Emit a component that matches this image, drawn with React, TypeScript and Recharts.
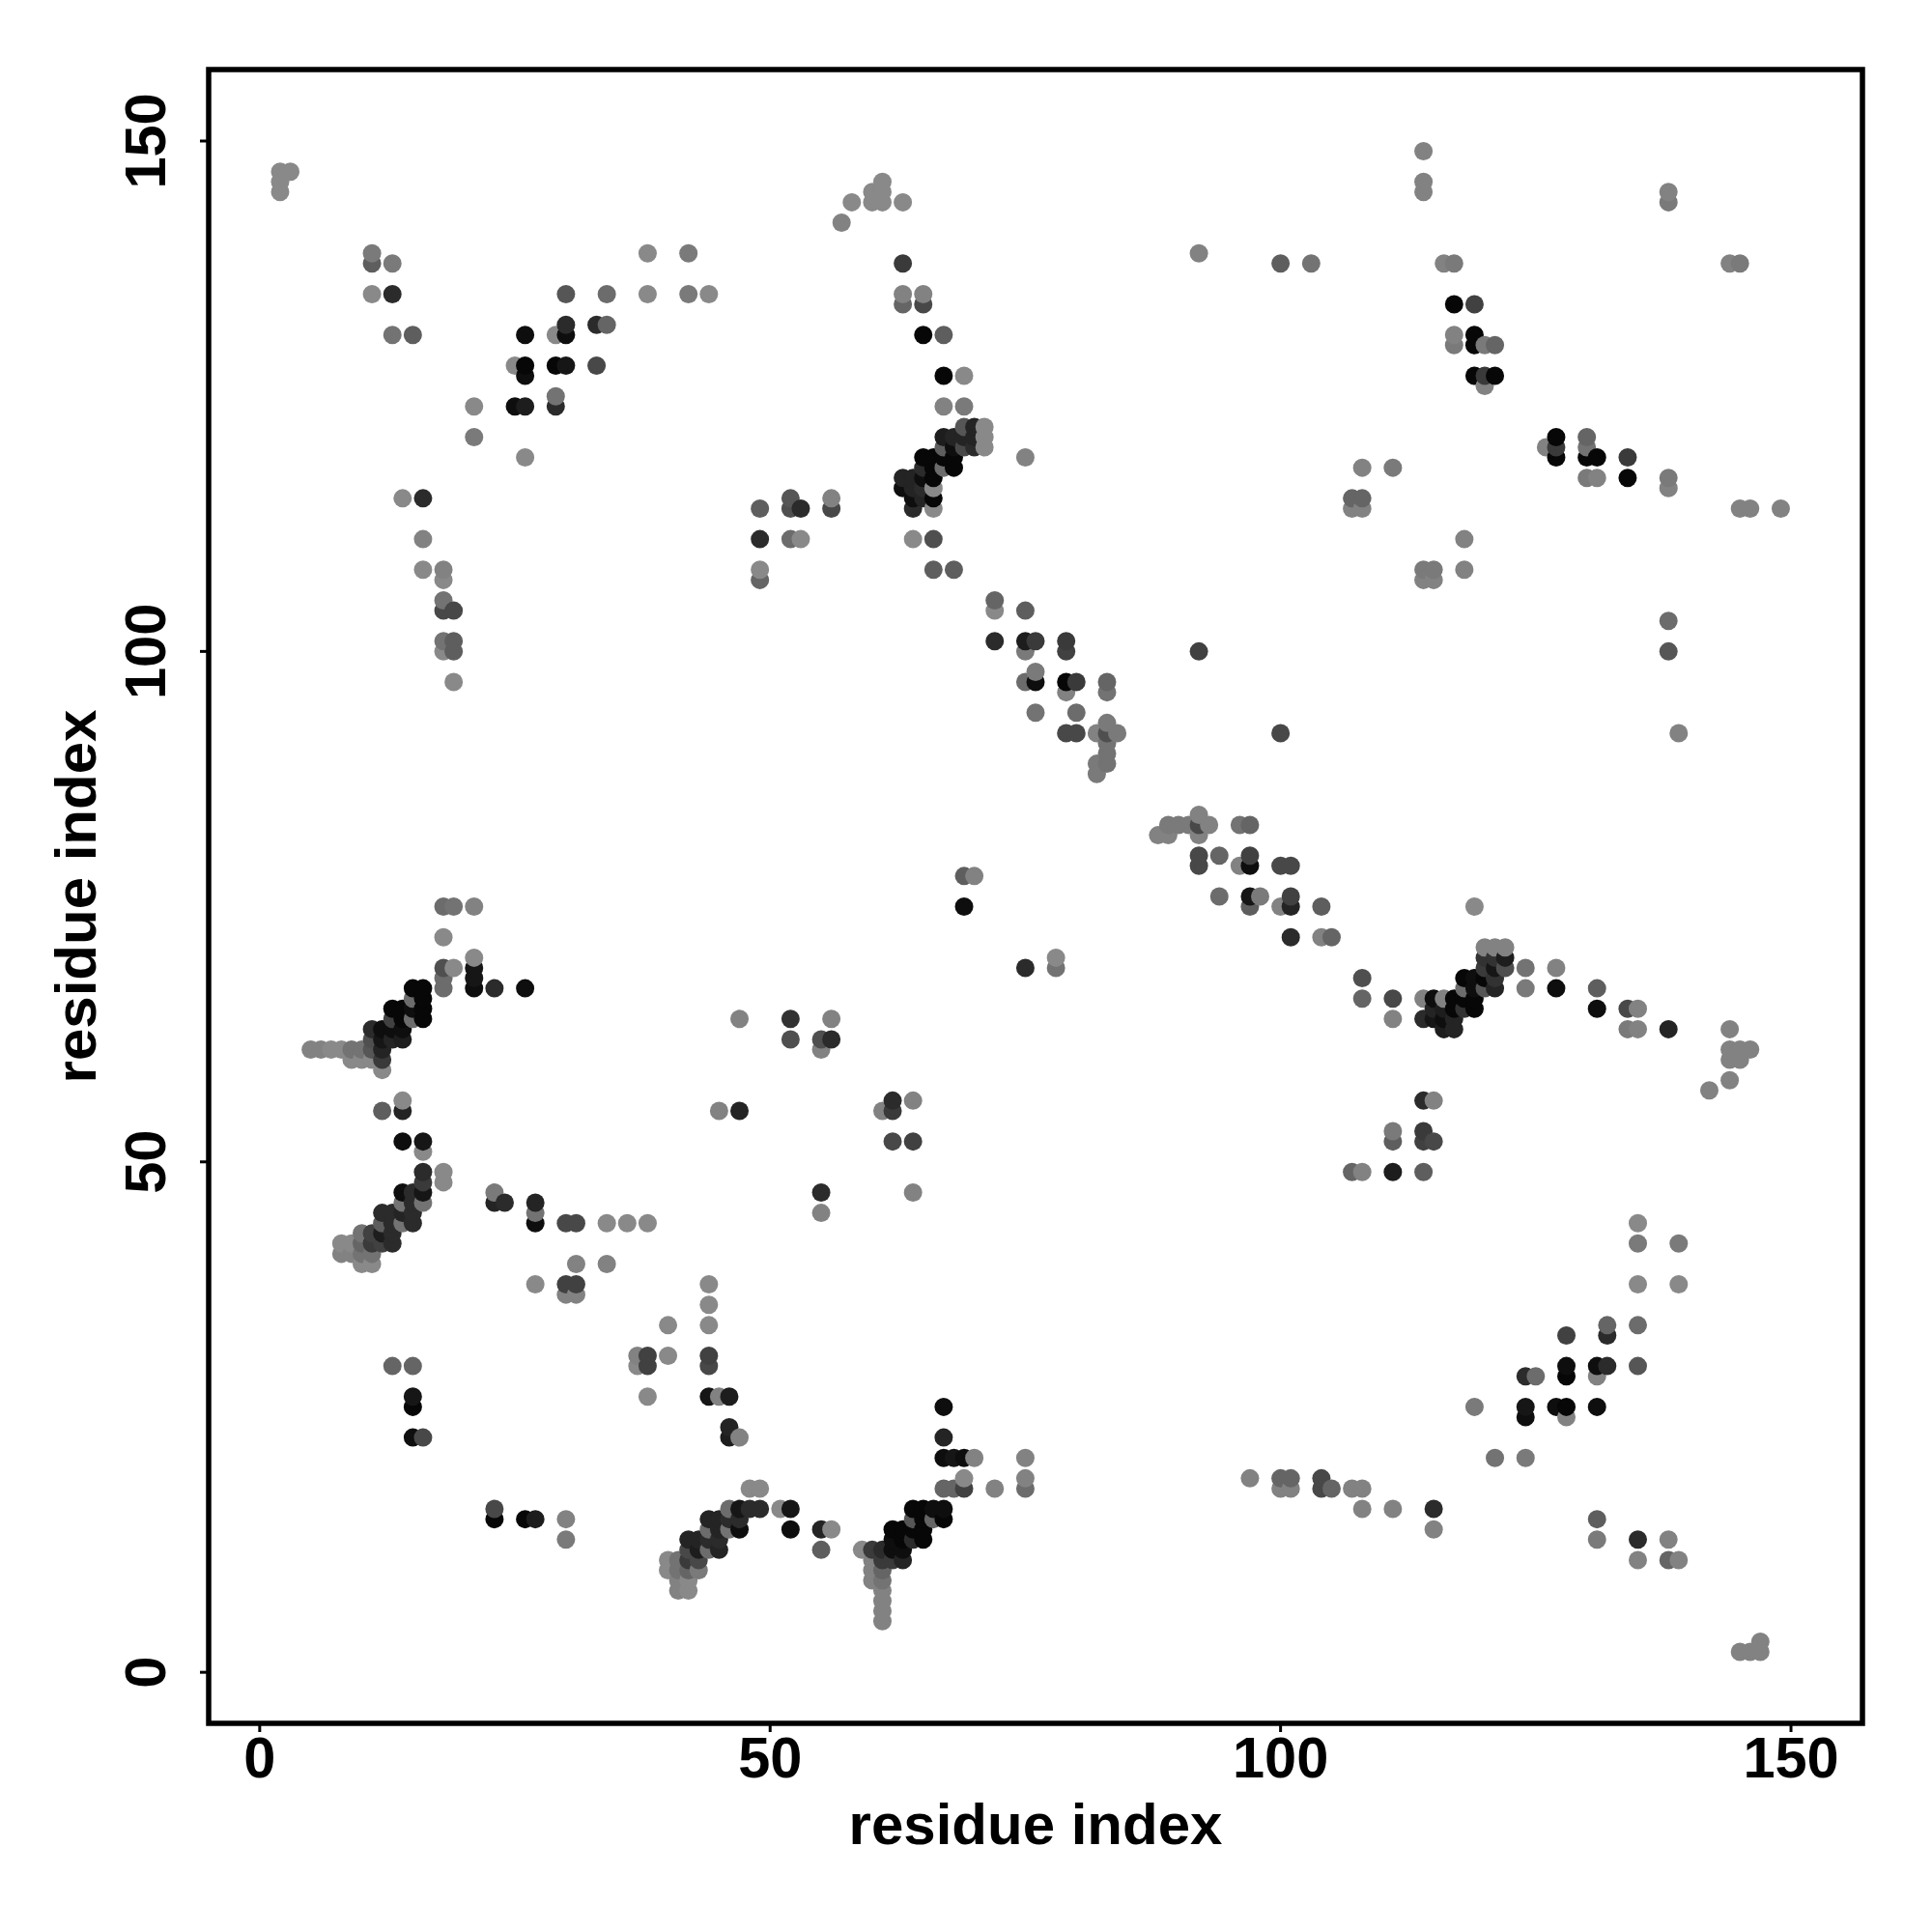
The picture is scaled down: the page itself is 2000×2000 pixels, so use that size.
import { ScatterChart, Scatter, XAxis, YAxis, ReferenceArea } from "recharts";

// each contact: [residue i, residue j, strength 0-100]
type Contact = [number, number, number];

const tickValues = [0, 50, 100, 150];
const axisTitle = "residue index";

const topLeft: Contact[] = [
  [2, 145, 5], [2, 146, 5], [2, 147, 5], [3, 147, 5],
  [11, 139, 15], [11, 138, 35], [13, 138, 15], [11, 135, 5], [13, 135, 70], [13, 131, 20], [15, 131, 35],
  [14, 115, 5], [16, 115, 70], [16, 111, 10], [16, 108, 5], [18, 108, 10], [18, 107, 5], [18, 105, 20],
  [18, 104, 50], [19, 104, 50], [18, 101, 20], [19, 101, 35], [18, 100, 5], [19, 100, 35], [19, 97, 5],
  [21, 124, 5], [21, 121, 15], [26, 119, 5],
  [25, 124, 90], [26, 124, 80], [29, 124, 70], [29, 125, 20],
  [25, 128, 5], [26, 128, 95], [26, 127, 90], [29, 128, 95], [30, 128, 85], [33, 128, 50],
  [26, 131, 90], [29, 131, 5], [30, 131, 90], [30, 132, 70], [33, 132, 70], [34, 132, 30],
  [30, 135, 40], [34, 135, 25], [38, 135, 5], [42, 135, 15], [44, 135, 5], [38, 139, 5], [42, 139, 15],
];

const topMiddle: Contact[] = [
  [57, 142, 10], [58, 144, 5], [60, 144, 5], [60, 145, 5], [61, 144, 5], [61, 145, 5], [61, 146, 5], [63, 144, 5],
  [63, 138, 60], [63, 135, 10], [65, 135, 10], [63, 134, 30], [65, 134, 50], [65, 131, 95], [67, 131, 35],
  [67, 127, 95], [69, 127, 5], [67, 124, 10], [69, 124, 15],
  [69, 122, 40], [70, 122, 75], [71, 122, 5], [71, 121, 5], [71, 120, 5], [70, 121, 75], [70, 120, 70],
  [69, 121, 75], [69, 120, 50], [67, 121, 80], [68, 121, 75], [67, 120, 35], [68, 120, 90],
  [65, 119, 95], [66, 119, 95], [67, 119, 95], [68, 119, 95], [65, 118, 70], [66, 118, 95], [67, 118, 25], [68, 118, 95],
  [63, 117, 75], [64, 117, 75], [65, 117, 90], [66, 117, 95], [63, 116, 90], [64, 116, 75], [65, 116, 70], [66, 116, 5],
  [64, 115, 90], [65, 115, 75], [66, 115, 95], [64, 114, 70], [66, 114, 5],
  [64, 111, 5], [66, 111, 45], [66, 108, 35], [68, 108, 35], [75, 119, 10],
  [49, 114, 35], [52, 115, 40], [52, 114, 45], [53, 114, 70], [56, 115, 10], [56, 114, 50],
  [49, 111, 70], [52, 111, 25], [53, 111, 5], [49, 108, 5], [49, 107, 30],
];

const midDiagonal: Contact[] = [
  [72, 105, 30], [72, 104, 5], [75, 104, 35], [72, 101, 70], [75, 101, 80], [76, 101, 60], [75, 100, 15],
  [79, 101, 60], [79, 100, 55], [76, 98, 15], [75, 97, 25], [76, 97, 90], [79, 97, 95], [80, 97, 60], [79, 96, 10],
  [83, 97, 30], [83, 96, 20], [76, 94, 20], [80, 94, 25], [79, 92, 50], [80, 92, 50],
  [82, 92, 10], [83, 93, 15], [83, 92, 45], [84, 92, 15], [83, 91, 20], [83, 90, 20], [83, 89, 20], [82, 89, 15], [82, 88, 15],
  [92, 100, 55], [100, 92, 50],
  [88, 82, 10], [89, 82, 10], [89, 83, 15], [90, 83, 15], [91, 83, 15], [92, 83, 50], [92, 84, 10], [93, 83, 10], [92, 82, 10],
  [96, 83, 20], [97, 83, 30], [92, 80, 50], [92, 79, 50], [94, 80, 30], [96, 79, 10], [97, 80, 55], [97, 79, 90],
  [100, 79, 50], [101, 79, 50], [94, 76, 25], [97, 76, 85], [98, 76, 15], [97, 75, 35], [100, 75, 10], [101, 76, 55],
  [101, 75, 75], [104, 75, 35], [101, 72, 70], [104, 72, 10], [105, 72, 30], [108, 68, 45], [108, 66, 30],
  [69, 78, 35], [70, 78, 10], [69, 75, 90], [75, 69, 70], [78, 69, 20], [78, 70, 5], [119, 75, 5],
];

const leftMiddle: Contact[] = [
  [18, 75, 25], [19, 75, 20], [21, 75, 10], [18, 72, 5], [21, 70, 5], [21, 69, 85], [21, 68, 85], [21, 67, 90], [23, 67, 70], [26, 67, 90],
  [18, 69, 45], [19, 69, 5], [18, 68, 25], [18, 67, 25],
  [15, 67, 95], [16, 67, 95], [15, 66, 25], [16, 66, 95], [16, 65, 95], [16, 64, 95], [15, 64, 25], [15, 65, 90],
  [13, 65, 95], [14, 65, 95], [13, 64, 55], [14, 64, 95], [12, 63, 90], [11, 63, 70], [13, 63, 90], [14, 63, 90],
  [12, 62, 85], [13, 62, 75], [14, 62, 80], [11, 62, 45],
  [5, 61, 10], [6, 61, 10], [7, 61, 5], [8, 61, 5], [9, 61, 20], [10, 61, 20], [11, 61, 40], [12, 61, 75],
  [9, 60, 5], [10, 60, 5], [11, 60, 5], [12, 60, 60], [12, 59, 5],
  [12, 55, 35], [14, 55, 75], [14, 56, 5], [14, 52, 90], [16, 52, 85], [16, 51, 5],
  [16, 49, 70], [18, 49, 5], [18, 48, 5], [16, 48, 60], [16, 47, 85], [16, 46, 20],
  [14, 47, 90], [15, 47, 70], [15, 46, 70], [14, 46, 20], [15, 45, 70], [14, 45, 75], [15, 44, 70], [14, 44, 20],
  [12, 45, 70], [13, 45, 70], [12, 44, 35], [13, 44, 70], [12, 43, 80], [13, 43, 70], [13, 42, 70],
  [10, 43, 20], [11, 43, 55], [10, 42, 30], [11, 42, 60], [12, 42, 55],
  [8, 42, 5], [9, 42, 5], [8, 41, 10], [9, 41, 10], [10, 41, 20], [11, 41, 20], [10, 40, 5], [11, 40, 5],
];

const centerLeft: Contact[] = [
  [23, 47, 15], [23, 46, 75], [24, 46, 70], [27, 46, 75], [27, 45, 20], [27, 44, 90],
  [30, 44, 50], [31, 44, 50], [34, 44, 5], [36, 44, 5], [38, 44, 5], [31, 40, 10], [34, 40, 10],
  [27, 38, 5], [30, 38, 55], [31, 38, 55], [30, 37, 10], [31, 37, 10],
  [44, 38, 5], [44, 36, 5], [44, 34, 5], [40, 34, 5], [40, 31, 5], [37, 31, 10], [37, 30, 5],
  [38, 31, 55], [38, 30, 55], [44, 31, 55], [44, 30, 50], [38, 27, 5], [44, 27, 85], [45, 27, 10], [46, 27, 80],
  [13, 30, 30], [15, 30, 30], [15, 27, 85], [15, 26, 95], [15, 23, 90], [16, 23, 50],
  [46, 24, 75], [46, 23, 80], [47, 23, 10],
  [47, 64, 10], [52, 64, 65], [56, 64, 10], [52, 62, 45], [55, 62, 45], [56, 62, 70], [55, 61, 10],
  [45, 55, 10], [47, 55, 75], [61, 55, 10], [62, 55, 60], [62, 56, 70], [64, 56, 10],
  [62, 52, 50], [64, 52, 55], [64, 47, 10], [55, 47, 70], [55, 45, 10],
];

const bottomLeft: Contact[] = [
  [23, 16, 50], [23, 15, 95], [26, 15, 95], [27, 15, 80], [30, 15, 10], [30, 13, 15],
  [48, 18, 5], [49, 18, 5], [46, 16, 25], [47, 16, 85], [48, 16, 70], [49, 16, 70], [51, 16, 5], [52, 16, 85],
  [52, 14, 90], [55, 14, 75], [56, 14, 5], [55, 12, 35],
  [44, 15, 75], [45, 15, 75], [46, 15, 70], [47, 15, 70], [46, 14, 20], [47, 14, 90], [45, 14, 75], [44, 14, 25],
  [42, 13, 75], [43, 13, 75], [44, 13, 70], [45, 13, 70], [45, 12, 75], [44, 12, 25], [43, 12, 80], [42, 12, 50],
  [43, 11, 50], [42, 11, 60], [41, 11, 20], [40, 11, 5], [43, 10, 15], [42, 10, 30], [41, 10, 20], [40, 10, 5],
  [41, 9, 10], [42, 9, 5], [41, 8, 10], [42, 8, 5],
];

const bottomMiddle: Contact[] = [
  [67, 26, 90], [67, 23, 75], [67, 21, 90], [68, 21, 85], [69, 21, 90], [70, 21, 10],
  [67, 18, 30], [68, 18, 30], [69, 18, 55], [69, 19, 5], [72, 18, 10], [75, 21, 10], [75, 19, 10], [75, 18, 25],
  [64, 16, 95], [65, 16, 95], [66, 16, 90], [67, 16, 90], [67, 15, 95], [66, 15, 30], [65, 15, 95], [64, 15, 40],
  [62, 14, 95], [63, 14, 95], [64, 14, 95], [65, 14, 95], [62, 13, 90], [63, 13, 95], [64, 13, 70], [65, 13, 95],
  [59, 12, 5], [60, 12, 60], [61, 12, 70], [62, 12, 90], [63, 12, 90], [63, 11, 75], [62, 11, 60], [61, 11, 60], [60, 11, 10],
  [60, 10, 10], [61, 10, 30], [60, 9, 10], [61, 9, 20], [61, 8, 10], [61, 7, 10], [61, 6, 10], [61, 5, 10],
];

const rightTop: Contact[] = [
  [92, 139, 10], [100, 138, 35], [103, 138, 20], [114, 149, 10], [114, 146, 10], [114, 145, 10],
  [116, 138, 10], [117, 138, 15], [117, 134, 95], [119, 134, 55],
  [117, 131, 10], [117, 130, 15], [119, 131, 95], [119, 130, 95], [120, 130, 15], [121, 130, 30],
  [119, 127, 95], [120, 127, 60], [121, 127, 95], [120, 126, 10],
  [126, 120, 10], [127, 121, 95], [127, 120, 60], [127, 119, 95],
  [130, 121, 30], [130, 120, 20], [130, 119, 95], [131, 119, 95], [130, 117, 15], [131, 117, 10],
  [134, 119, 60], [134, 117, 95], [138, 117, 15], [138, 116, 10],
  [138, 145, 10], [138, 144, 15], [138, 103, 25], [138, 100, 40], [139, 92, 10],
  [144, 138, 10], [145, 138, 15], [145, 114, 10], [146, 114, 10], [149, 114, 10],
  [108, 118, 10], [111, 118, 15], [107, 115, 30], [108, 115, 30], [107, 114, 10], [108, 114, 10],
  [114, 108, 15], [115, 108, 15], [114, 107, 10], [115, 107, 10], [118, 111, 10], [118, 108, 10],
];

const rightMiddle: Contact[] = [
  [111, 66, 50], [111, 64, 10], [114, 66, 10], [114, 64, 70], [115, 66, 90], [115, 65, 75], [115, 64, 85],
  [116, 66, 10], [116, 65, 80], [116, 64, 90], [116, 63, 80], [117, 63, 75], [117, 64, 75], [117, 66, 95], [117, 65, 95],
  [118, 68, 95], [119, 68, 90], [118, 67, 25], [118, 66, 95], [119, 67, 90], [119, 66, 95], [118, 65, 65], [119, 65, 95],
  [120, 71, 10], [121, 71, 10], [122, 71, 10], [120, 70, 65], [121, 70, 65], [122, 70, 80],
  [120, 69, 60], [121, 69, 85], [122, 69, 45], [120, 68, 95], [121, 68, 65], [120, 67, 40], [121, 67, 75],
  [124, 69, 20], [124, 67, 15], [127, 69, 10], [127, 67, 90], [131, 67, 35], [131, 65, 90],
  [134, 65, 50], [135, 65, 10], [134, 63, 15], [135, 63, 10], [138, 63, 75],
  [144, 63, 10], [144, 61, 10], [145, 61, 10], [146, 61, 10], [144, 60, 10], [145, 60, 10], [144, 58, 10], [142, 57, 10],
  [114, 56, 70], [115, 56, 10], [114, 53, 60], [114, 52, 55], [115, 52, 50], [111, 53, 15], [111, 52, 35],
  [111, 49, 80], [114, 49, 35], [107, 49, 30], [108, 49, 10],
];

const bottomRight: Contact[] = [
  [135, 44, 5], [135, 42, 15], [139, 42, 15], [135, 38, 5], [139, 38, 5],
  [132, 34, 30], [132, 33, 70], [135, 34, 25], [128, 33, 55],
  [128, 30, 90], [128, 29, 95], [131, 30, 90], [132, 30, 70], [131, 29, 10], [135, 30, 40],
  [124, 29, 70], [125, 29, 25], [119, 26, 15], [124, 26, 85], [124, 25, 90], [127, 26, 90], [128, 26, 95], [128, 25, 10], [131, 26, 90],
  [121, 21, 20], [124, 21, 15], [131, 15, 35], [131, 13, 15], [135, 13, 70], [138, 13, 10], [135, 11, 10], [138, 11, 30], [139, 11, 10],
  [145, 2, 10], [146, 2, 10], [147, 2, 10], [147, 3, 10],
  [97, 19, 10], [100, 19, 30], [101, 19, 30], [100, 18, 10], [101, 18, 10], [104, 19, 50], [104, 18, 50], [105, 18, 30],
  [107, 18, 10], [108, 18, 10], [108, 16, 10], [111, 16, 10], [115, 16, 70], [115, 14, 10],
];

const contacts = [
  ...topLeft, ...topMiddle, ...midDiagonal, ...leftMiddle, ...centerLeft,
  ...bottomLeft, ...bottomMiddle, ...rightTop, ...rightMiddle, ...bottomRight,
]
  .map(([i, j, strength]) => ({ i, j, strength }))
  .sort((a, b) => a.i - b.i || a.j - b.j);

const FONT = "'Liberation Sans', Arial, sans-serif";
const greyFor = (strength: number) => {
  const v = Math.round(0x90 * (1 - strength / 100));
  return `rgb(${v},${v},${v})`;
};

const ContactDot = (props: any) => (
  <circle cx={props.cx} cy={props.cy} r={9.5} fill={greyFor(props.payload.strength)} />
);

const XTick = ({ x, y, payload }: any) => (
  <text x={x} y={y + 45} textAnchor="middle" fontFamily={FONT} fontWeight="bold" fontSize={59.5} fill="#000">
    {payload.value}
  </text>
);

const YTick = ({ x, y, payload }: any) => (
  <text
    transform={`rotate(-90 ${x - 34} ${y})`}
    x={x - 34}
    y={y}
    textAnchor="middle"
    fontFamily={FONT}
    fontWeight="bold"
    fontSize={59.5}
    fill="#000"
  >
    {payload.value}
  </text>
);

const XTitle = ({ viewBox }: any) => (
  <text
    x={viewBox.x + viewBox.width / 2}
    y={viewBox.y + 125}
    textAnchor="middle"
    fontFamily={FONT}
    fontWeight="bold"
    fontSize={60}
    fill="#000"
  >
    {axisTitle}
  </text>
);

const YTitle = ({ viewBox }: any) => {
  const cx = viewBox.x + 99;
  const cy = viewBox.y + viewBox.height / 2;
  return (
    <text
      transform={`rotate(-90 ${cx} ${cy})`}
      x={cx}
      y={cy}
      textAnchor="middle"
      fontFamily={FONT}
      fontWeight="bold"
      fontSize={60}
      fill="#000"
    >
      {axisTitle}
    </text>
  );
};

const App = () => (
  <div style={{ position: "absolute", left: 0, top: 0, width: 2000, height: 2000, background: "#fff" }}>
    <ScatterChart width={2000} height={2000} margin={{ top: 72, right: 72, bottom: 0, left: 0 }}>
      <XAxis
        type="number"
        dataKey="i"
        domain={[-5, 157]}
        ticks={tickValues}
        height={216}
        axisLine={false}
        tickLine={{ stroke: "#000", strokeWidth: 3 }}
        tickSize={9}
        tick={<XTick />}
        interval={0}
        label={<XTitle />}
      />
      <YAxis
        type="number"
        dataKey="j"
        domain={[-5, 157]}
        ticks={tickValues}
        width={216}
        axisLine={false}
        tickLine={{ stroke: "#000", strokeWidth: 3 }}
        tickSize={9}
        tick={<YTick />}
        interval={0}
        label={<YTitle />}
      />
      <Scatter data={contacts} shape={<ContactDot />} isAnimationActive={false} />
      <ReferenceArea x1={-5} x2={157} y1={-5} y2={157} fill="none" stroke="#000" strokeWidth={5.5} fillOpacity={1} />
    </ScatterChart>
  </div>
);

export default App;
